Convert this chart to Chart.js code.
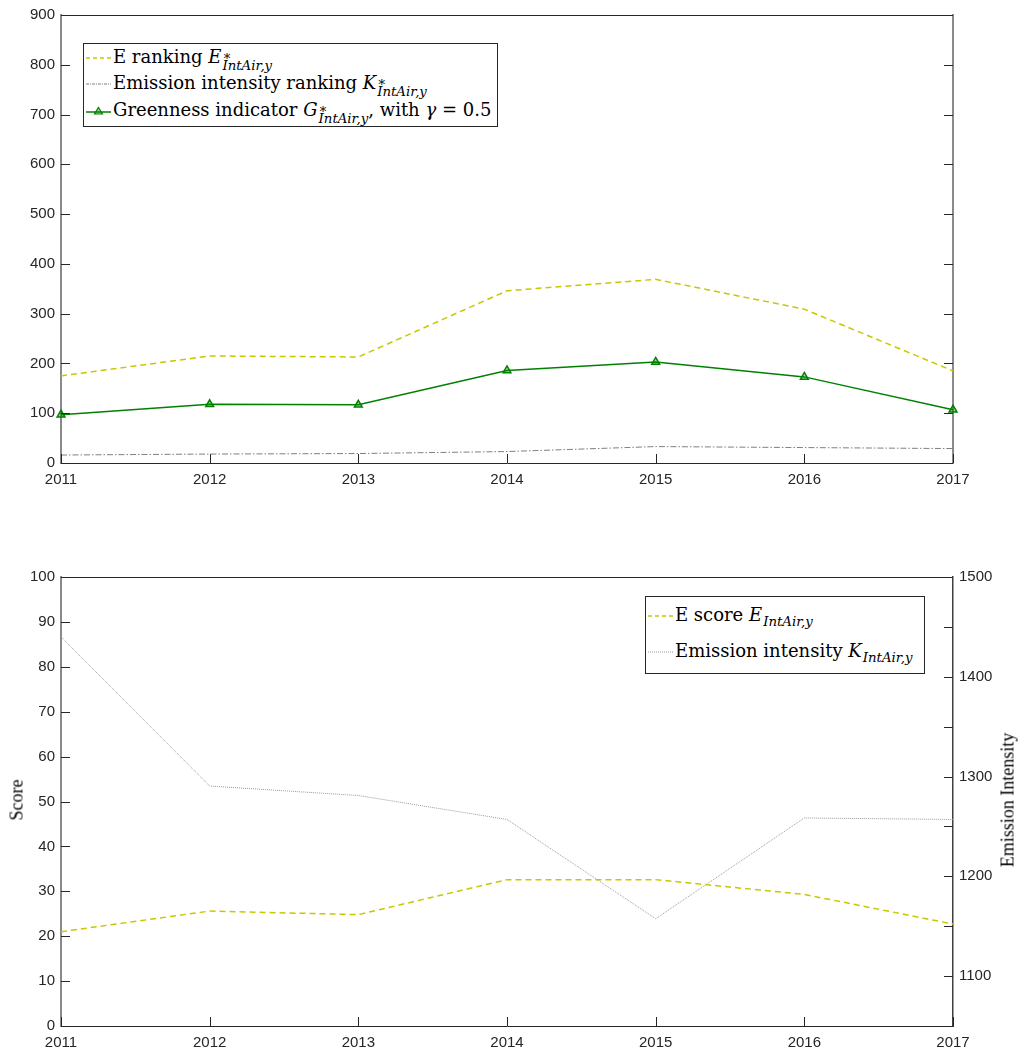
<!DOCTYPE html>
<html>
<head>
<meta charset="utf-8">
<script src="https://cdn.jsdelivr.net/npm/chart.js@4/dist/chart.umd.min.js"></script>
<style>
  html, body { margin: 0; padding: 0; background: #fff; }
  #wrap { position: relative; width: 1021px; height: 1055px; }
  #top { position: absolute; left: 0; top: 0; }
  #bottom { position: absolute; left: 0; top: 500px; }
  .leg { position: absolute; border: 1px solid #262626; background: #fff; box-sizing: border-box;
         font-family: "DejaVu Serif", "Liberation Serif", serif; font-size: 18px; color: #000; }
  .row { position: absolute; left: 1px; white-space: nowrap; height: 22px; line-height: 22px; }
  .row svg { vertical-align: middle; margin-right: 2px; }
  .ss { display: inline-block; vertical-align: -0.5em; line-height: 0.72em; font-size: 0.74em; font-style: italic; margin-left: 1px; }
  .ss span { display: block; }
  .ytitle { position: absolute; font-family: "Liberation Serif", "DejaVu Serif", serif; font-size: 18px;
            transform: translate(-50%, -50%) rotate(-90deg); white-space: nowrap; }
</style>
</head>
<body>
<div id="wrap">
  <canvas id="top" width="1021" height="500"></canvas>
  <canvas id="bottom" width="1021" height="555"></canvas>

  <div class="leg" style="left:83px; top:43px; width:415px; height:84px;">
    <div class="row" style="top:2px;">
      <svg width="26" height="10"><line x1="1" y1="5" x2="26" y2="5" stroke="#c8c800" stroke-width="1.3" stroke-dasharray="4,3"/></svg>E ranking <i>E</i><span class="ss"><span>&lowast;</span><span>IntAir,y</span></span>
    </div>
    <div class="row" style="top:28px;">
      <svg width="26" height="10"><line x1="1" y1="5" x2="26" y2="5" stroke="#7f7f7f" stroke-width="1" stroke-dasharray="3,1,1,1"/></svg>Emission intensity ranking <i>K</i><span class="ss"><span>&lowast;</span><span>IntAir,y</span></span>
    </div>
    <div class="row" style="top:55px;">
      <svg width="26" height="12"><line x1="1" y1="7" x2="26" y2="7" stroke="#008000" stroke-width="1.5"/><polygon points="13.5,2.5 17.5,9 9.5,9" fill="rgba(0,128,0,0.35)" stroke="#008000" stroke-width="1.2"/></svg>Greenness indicator <i>G</i><span class="ss"><span>&lowast;</span><span>IntAir,y</span></span>, with <i>&gamma;</i>&nbsp;=&nbsp;0.5
    </div>
  </div>

  <div class="leg" style="left:645px; top:596px; width:280px; height:78px;">
    <div class="row" style="top:7px;">
      <svg width="26" height="10"><line x1="1" y1="5" x2="26" y2="5" stroke="#c8c800" stroke-width="1.3" stroke-dasharray="4,3"/></svg>E score <i>E</i><span class="ss" style="vertical-align:-0.35em"><span>IntAir,y</span></span>
    </div>
    <div class="row" style="top:43px;">
      <svg width="26" height="10"><line x1="1" y1="5" x2="26" y2="5" stroke="#999" stroke-width="1" stroke-dasharray="1,1"/></svg>Emission intensity <i>K</i><span class="ss" style="vertical-align:-0.35em"><span>IntAir,y</span></span>
    </div>
  </div>

  <div class="ytitle" style="left:17px; top:800px;">Score</div>
  <div class="ytitle" style="left:1008px; top:800px;">Emission Intensity</div>
</div>

<script>
// data
var years = ['2011', '2012', '2013', '2014', '2015', '2016', '2017'];
var eRanking = [175, 215, 213, 346, 369, 309, 185];
var kRanking = [16, 18, 19, 23, 33, 31, 29];
var greenness = [97, 118, 117, 186, 203, 173, 107];
var eScore = [21.0, 25.6, 24.8, 32.6, 32.6, 29.3, 22.7];
var emissionIntensity = [1440, 1290.5, 1281, 1257, 1157.5, 1258.5, 1257];

var tickFont = { family: '"Liberation Sans", Arial, sans-serif', size: 15 };
var tickColor = '#262626';

// MATLAB style: ticks pointing into the plot, plus a closed box
var inwardTicks = {
  id: 'inwardTicks',
  afterDraw: function (chart) {
    var ctx = chart.ctx, a = chart.chartArea, len = 9;
    ctx.save();
    ctx.strokeStyle = '#262626';
    ctx.lineWidth = 1;
    ctx.beginPath();
    ctx.moveTo(a.left, a.top + 0.5);
    ctx.lineTo(a.right, a.top + 0.5);
    ctx.stroke();
    Object.values(chart.scales).forEach(function (s) {
      s.ticks.forEach(function (t) {
        var p = Math.round(s.getPixelForValue(s.axis === 'x' ? s.getLabels().indexOf(t.label) : t.value)) + 0.5;
        ctx.beginPath();
        if (s.axis === 'x') {
          ctx.moveTo(p, a.bottom); ctx.lineTo(p, a.bottom - len);
        } else if (s.position === 'left') {
          ctx.moveTo(a.left, p); ctx.lineTo(a.left + len, p);
        } else {
          ctx.moveTo(a.right, p); ctx.lineTo(a.right - len, p);
        }
        ctx.stroke();
      });
    });
    ctx.restore();
  }
};

function xScale(h) {
  return {
    type: 'category',
    offset: false,
    grid: { display: false, drawTicks: false },
    border: { display: true, color: '#262626', width: 1 },
    ticks: { font: tickFont, color: tickColor, padding: 8, maxRotation: 0, autoSkip: false },
    afterFit: function (s) { s.height = h; }
  };
}

function yScale(pos, min, max, step, w, showLabels, borderColor, borderWidth) {
  return {
    type: 'linear',
    position: pos,
    min: min, max: max,
    grid: { display: false, drawTicks: false },
    border: { display: true, color: borderColor, width: borderWidth },
    ticks: {
      display: showLabels,
      stepSize: step,
      font: tickFont, color: tickColor, padding: 6,
      callback: function (v) { return (max > 1000 && v % 100 !== 0) ? '' : v; }
    },
    afterFit: function (s) { s.width = w; }
  };
}

new Chart(document.getElementById('top'), {
  type: 'line',
  data: {
    labels: years,
    datasets: [{
      label: 'E ranking',
      data: eRanking,
      borderColor: '#c8c800', borderWidth: 1.5, borderDash: [6, 4],
      pointRadius: 0, tension: 0, clip: false, yAxisID: 'y'
    }, {
      label: 'Emission intensity ranking',
      data: kRanking,
      borderColor: '#7f7f7f', borderWidth: 1, borderDash: [6, 2, 1.5, 2],
      pointRadius: 0, tension: 0, clip: false, yAxisID: 'y'
    }, {
      label: 'Greenness indicator',
      data: greenness,
      borderColor: '#008000', borderWidth: 1.5,
      pointStyle: 'triangle', pointRadius: 4.5, pointBorderWidth: 1.5,
      pointBorderColor: '#008000', pointBackgroundColor: 'rgba(0,128,0,0.35)',
      tension: 0, clip: false, yAxisID: 'y'
    }]
  },
  options: {
    responsive: false,
    animation: false,
    layout: { padding: { top: 11, left: 0, right: 0, bottom: 0 } },
    plugins: { legend: { display: false }, tooltip: { enabled: false } },
    scales: {
      x: xScale(37),
      y: yScale('left', 0, 900, 100, 61, true, '#8a8a8a', 2),
      y2: yScale('right', 0, 900, 100, 68, false, '#8a8a8a', 2)
    }
  },
  plugins: [inwardTicks]
});

new Chart(document.getElementById('bottom'), {
  type: 'line',
  data: {
    labels: years,
    datasets: [{
      label: 'E score',
      data: eScore,
      borderColor: '#c8c800', borderWidth: 1.5, borderDash: [6, 4],
      pointRadius: 0, tension: 0, clip: false, yAxisID: 'y'
    }, {
      label: 'Emission intensity',
      data: emissionIntensity,
      borderColor: '#999999', borderWidth: 1, borderDash: [1, 1],
      pointRadius: 0, tension: 0, clip: false, yAxisID: 'y2'
    }]
  },
  options: {
    responsive: false,
    animation: false,
    layout: { padding: { top: 77, left: 0, right: 0, bottom: 0 } },
    plugins: { legend: { display: false }, tooltip: { enabled: false } },
    scales: {
      x: xScale(29),
      y: yScale('left', 0, 100, 10, 61, true, '#8a8a8a', 2),
      y2: yScale('right', 1050, 1500, 50, 68, true, '#404040', 1.5)
    }
  },
  plugins: [inwardTicks]
});
</script>
</body>
</html>
